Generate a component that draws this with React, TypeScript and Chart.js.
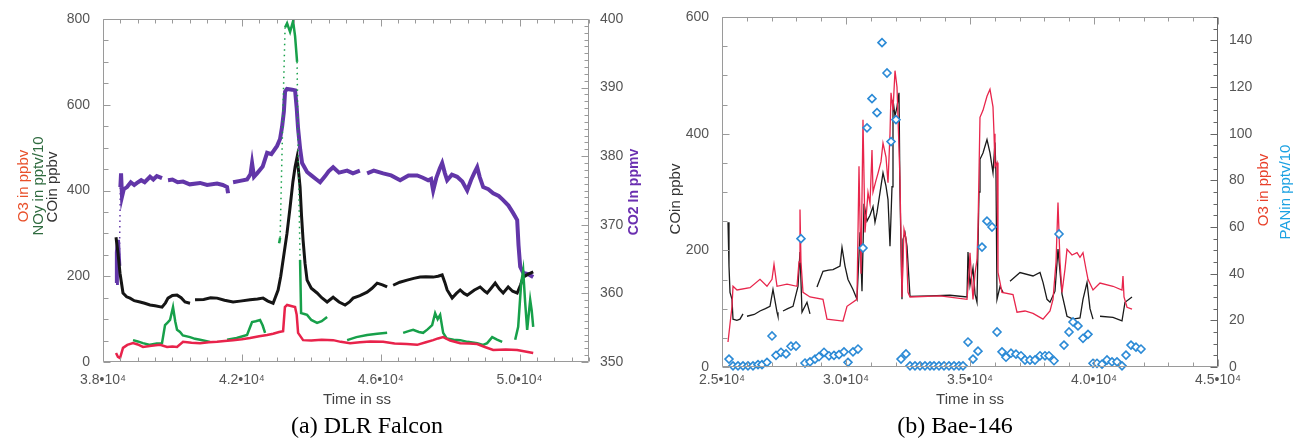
import React, { useEffect, useRef } from "react";
import { Chart, registerables } from "chart.js";
Chart.register(...registerables);

type P = [number, number | null];

// ---------- (a) DLR Falcon ----------
const falconXTicks = [38000, 42000, 46000, 50000];
const falconYTicks = [0, 200, 400, 600, 800];
const falconY2Ticks = [350, 360, 370, 380, 390, 400];

const falconCo2: P[] = [
  [38375, 361.5], [38400, 366], [38432, 367.8], [38470, 364], [38500, 375.5], [38520, 377.5], [38548, 374.1],
  [38600, 375.2], [38692, 375.5], [38800, 376.2], [38900, 375.8], [38980, 376.1], [39100, 376.5], [39200, 376.2],
  [39355, 377], [39450, 376.6], [39550, 377.1], [39700, 376.8], [39780, null], [39873, 376.5], [40000, 376.6],
  [40150, 376.2], [40306, 376.3], [40500, 375.9], [40796, 376.1], [41000, 375.8], [41285, 376.0], [41450, 375.8],
  [41574, 375.5], [41603, 374.6], [41660, null], [41747, 376.2], [41950, 376.4], [42150, 376.6], [42250, 377.4],
  [42294, 379], [42350, 377], [42438, 377.5], [42600, 378.5], [42727, 380.5], [42850, 380.3], [43015, 381.5],
  [43100, 382.5], [43159, 384.3], [43210, 386.5], [43245, 389.4], [43300, 389.8], [43450, 389.7], [43533, 389.6],
  [43580, 387], [43620, 384], [43680, 381], [43735, 379], [43879, 377.7], [44000, 377.2], [44150, 376.6],
  [44254, 376.2], [44400, 377.1], [44500, 377.8], [44629, 378.4], [44800, 377.6], [45032, 377.9], [45200, 377.5],
  [45400, 377.9], [45500, null], [45608, 377.5], [45800, 377.9], [46070, 377.5], [46300, 377.2], [46560, 376.5],
  [46800, 377.2], [47050, 377.2], [47200, 376.9], [47367, 376.5], [47450, 376.7], [47511, 375], [47600, 376.8],
  [47700, 378.2], [47770, 379], [47850, 377.5], [47914, 376.5], [48050, 377.3], [48202, 377], [48350, 376.3],
  [48491, 375], [48600, 376.5], [48700, 377.6], [48779, 378.4], [48850, 377], [48952, 375.5], [49100, 375.2],
  [49240, 374.6], [49400, 374.2], [49528, 373.6], [49680, 372.8], [49816, 371.7], [49931, 370.7], [49970, 367],
  [50018, 363.9], [50104, 363], [50250, 362.8], [50393, 362.4],
];

const falconCo: P[] = [
  [38375, 291], [38432, 254], [38490, 207], [38576, 161], [38680, 152], [38778, 149], [38900, 143], [39066, 140],
  [39200, 137], [39355, 133], [39500, 131], [39700, 128], [39800, 138], [39873, 149], [40000, 155], [40133, 156],
  [40250, 150], [40363, 140], [40507, 137], [40580, null], [40651, 145], [40900, 146], [41100, 150], [41285, 149],
  [41500, 144], [41747, 140], [41950, 142], [42236, 145], [42450, 147], [42611, 149], [42750, 142], [42900, 137],
  [43044, 168], [43120, 200], [43188, 238], [43300, 300], [43389, 361], [43470, 420], [43533, 455], [43591, 478],
  [43640, 440], [43677, 408], [43720, 340], [43764, 284], [43820, 230], [43879, 191], [44000, 172], [44167, 161],
  [44300, 150], [44456, 140], [44629, 151], [44800, 140], [44974, 133], [45100, 140], [45205, 149], [45400, 155],
  [45608, 163], [45750, 172], [45897, 184], [46050, 180], [46185, 175], [46270, null], [46358, 179], [46550, 186],
  [46761, 191], [46950, 195], [47136, 198], [47300, 199], [47511, 198], [47650, 200], [47770, 203], [47850, 185],
  [47914, 168], [48058, 149], [48180, 160], [48289, 168], [48400, 160], [48491, 156], [48700, 168], [48865, 175],
  [49000, 165], [49067, 161], [49180, 172], [49298, 184], [49420, 170], [49528, 161], [49672, 175], [49800, 165],
  [49931, 161], [50030, 180], [50104, 198], [50250, 205], [50393, 210],
];

const falconNoy: P[] = [
  [38865, 51], [39000, 48], [39150, 44], [39355, 40], [39550, 43], [39700, 44], [39787, 86], [39860, 92],
  [39931, 98], [40017, 128], [40080, 95], [40133, 75], [40219, 70], [40300, 62], [40507, 58], [40650, 54],
  [40796, 52], [41084, 47], [41200, null], [41574, 52], [41850, 56], [42150, 63], [42230, 80], [42294, 93],
  [42400, 95], [42525, 98], [42600, 85], [42669, 68], [42800, null], [43073, 277], [43102, 290], [43188, 600],
  [43245, 780], [43303, 790], [43389, 770], [43476, 795], [43533, 760], [43591, 700], [43620, 500], [43677, 238],
  [43706, 114], [43800, 112], [43879, 110], [44000, 98], [44167, 91], [44300, 95], [44456, 105], [44600, null],
  [45032, 51], [45300, 58], [45608, 63], [45900, 66], [46185, 68], [46400, null], [46646, 68], [46800, 72],
  [46934, 75], [47100, 70], [47222, 68], [47350, 76], [47482, 86], [47568, 114], [47640, 100], [47712, 110],
  [47799, 68], [47900, 55], [48100, 52], [48289, 51], [48500, 47], [48779, 44], [48950, 40], [49067, 44],
  [49211, 58], [49350, 52], [49499, 47], [49650, null], [49874, 52], [49960, 82], [50046, 184], [50104, 214],
  [50160, 140], [50219, 75], [50306, 145], [50350, 120], [50393, 82],
];

const falconO3: P[] = [
  [38375, 21], [38430, 12], [38490, 9], [38576, 33], [38700, 40], [38865, 44], [39000, 41], [39153, 35],
  [39400, 38], [39643, 40], [39845, 35], [40000, 36], [40133, 35], [40306, 47], [40550, 45], [40796, 44],
  [41050, 46], [41285, 47], [41500, 49], [41747, 51], [42000, 53], [42236, 56], [42500, 60], [42727, 63],
  [42900, 66], [43073, 70], [43188, 72], [43240, 128], [43303, 133], [43533, 128], [43580, 110], [43620, 68],
  [43764, 51], [44000, 50], [44300, 52], [44629, 51], [44850, 47], [45118, 44], [45400, 46], [45700, 48],
  [46070, 47], [46400, 43], [46750, 42], [47050, 40], [47300, 46], [47511, 51], [47650, 55], [47799, 58],
  [48000, 50], [48289, 44], [48550, 43], [48779, 42], [49000, 35], [49240, 28], [49600, 29], [49931, 28],
  [50200, 24], [50393, 21],
];

// ---------- (b) Bae-146 ----------
const baeXTicks = [25000, 30000, 35000, 40000, 45000];
const baeYTicks = [0, 200, 400, 600];
const baeY2Ticks = [0, 20, 40, 60, 80, 100, 120, 140];

const baeCo: P[] = [
  [25242, 248], [25282, 173], [25323, 128], [25403, 116], [25444, 82], [25600, 80], [25726, 82], [25847, 91],
  [25930, null], [26008, 87], [26300, 90], [26532, 96], [26750, 100], [26935, 104], [27056, 133], [27218, 94],
  [27258, 87], [27360, null], [27460, 96], [27650, 100], [27863, 104], [28064, 138], [28145, 197], [28226, 94],
  [28427, 111], [28548, 91], [28690, null], [28830, 137], [29072, 164], [29300, 166], [29476, 167], [29758, 173],
  [29839, 205], [29960, 173], [30081, 150], [30282, 133], [30443, 116], [30565, 231], [30645, 130], [30726, 280],
  [30847, 250], [30968, 260], [31089, 275], [31169, 248], [31250, 265], [31371, 299], [31492, 333], [31613, 310],
  [31694, 287], [31774, 207], [31855, 309], [31895, 458], [31976, 430], [32056, 446], [32137, 470], [32177, 300],
  [32258, 116], [32298, 219], [32379, 230], [32460, 207], [32540, 150], [32581, 121], [33387, 122], [34194, 123],
  [34879, 120], [34919, 197], [35000, 140], [35121, 170], [35202, 125], [35282, 111], [35363, 300], [35403, 356],
  [35524, 367], [35685, 390], [35806, 367], [35927, 333], [36008, 385], [36048, 330], [36089, 116], [36210, 138],
  [36331, 128], [36470, null], [36613, 147], [37016, 162], [37540, 156], [37823, 162], [37944, 145], [38105, 116],
  [38226, 111], [38427, 130], [38548, 202], [38710, 125], [38911, 87], [39153, 82], [39435, 84], [39556, 116],
  [39718, 145], [39839, 100], [39960, 82], [40100, null], [40242, 87], [40766, 85], [41129, 79], [41250, 111],
  [41532, 120],
];

const baeO3: P[] = [
  [25242, 10.7], [25403, 26], [25444, 34.6], [25605, 33], [26129, 34], [26532, 37.6], [26814, 34.6], [27016, 37.6],
  [27097, 44], [27218, 34.6], [27621, 35.5], [28024, 34.6], [28105, 45], [28145, 67.5], [28185, 45], [28266, 32],
  [28548, 30], [29072, 29], [29234, 20.5], [29879, 19.7], [30040, 26], [30443, 29], [30524, 86], [30605, 40],
  [30685, 106], [30766, 57.7], [30887, 74.8], [30968, 70], [31048, 93], [31089, 75], [31210, 80], [31290, 83],
  [31411, 88], [31492, 96], [31613, 90], [31694, 79], [31774, 100], [31815, 117.5], [31895, 110], [31976, 127],
  [32056, 120], [32097, 107], [32177, 80], [32258, 30], [32298, 45], [32339, 59], [32419, 55], [32500, 32],
  [32581, 30], [33790, 30.5], [34879, 29], [34960, 40], [35000, 49], [35081, 35], [35121, 29], [35202, 40],
  [35282, 46], [35323, 60], [35403, 107], [35524, 110], [35685, 116], [35806, 119], [35927, 111.5], [35968, 100],
  [36008, 86], [36089, 87.6], [36129, 40.6], [36290, 32], [36734, 31], [36895, 23.5], [37218, 24], [37540, 23],
  [37944, 20.5], [38226, 24], [38347, 29], [38468, 45], [38548, 70.5], [38629, 45], [38710, 32], [38831, 42],
  [38911, 50.4], [39113, 48], [39315, 49], [39435, 47], [39556, 49], [39677, 42], [39758, 37.6], [39960, 33],
  [40242, 36], [40766, 34.6], [41129, 33], [41169, 39], [41210, 30], [41331, 25.6], [41532, 24.8],
];

const baePan: P[] = [
  [25282, 3.4], [25444, 0.5], [25645, 0.5], [25847, 0.5], [26048, 0.5], [26250, 0.5], [26452, 1], [26613, 1],
  [26814, 2], [27016, 13.3], [27177, 5], [27379, 6.3], [27581, 5.6], [27782, 8.9], [27984, 9], [28185, 55],
  [28347, 1.7], [28548, 2.2], [28750, 3.4], [28911, 4.4], [29113, 6.3], [29315, 4.8], [29516, 5], [29718, 5.3],
  [29919, 6.5], [30081, 2], [30282, 6.5], [30484, 7.7], [30685, 51], [30847, 102.5], [31048, 115], [31250, 109],
  [31452, 139], [31653, 126], [31815, 96.6], [32016, 106], [32218, 3.4], [32419, 5.6], [32581, 0.5], [32782, 0.5],
  [32984, 0.5], [33185, 0.5], [33387, 0.5], [33548, 0.5], [33750, 0.5], [33952, 0.5], [34153, 0.5], [34355, 0.5],
  [34556, 0.5], [34718, 0.5], [34919, 10.7], [35121, 3.4], [35323, 6.8], [35484, 51.4], [35685, 62.5], [35887, 60],
  [36089, 15], [36290, 6.5], [36452, 4.2], [36653, 5.9], [36855, 5.5], [37056, 4.8], [37218, 3], [37419, 3],
  [37621, 3], [37823, 4.8], [38024, 4.8], [38185, 4.8], [38387, 2.7], [38589, 57], [38790, 9.4], [38992, 15],
  [39153, 19.3], [39355, 17.6], [39556, 12.3], [39758, 14], [39960, 1.6], [40121, 1.6], [40323, 1.2], [40524, 3],
  [40726, 2.2], [40927, 2.2], [41129, 0.5], [41290, 5.1], [41492, 9.4], [41694, 8.5], [41895, 7.7],
];

// ---------- helpers ----------
const SANS = "'Liberation Sans', Arial, Helvetica, sans-serif";
const SERIF = "'Liberation Serif', 'Times New Roman', serif";
const TICK_COLOR = "#555";
const pts = (a: P[]) => a.map(([x, y]) => ({ x, y }));
const xLabel = (v: number) => `${(v / 10000).toFixed(1)}•10⁴`;

type FrameCfg = {
  xMin: number; xMax: number; xStep: number; xMajor: number[];
  yMin: number; yMax: number; yStep: number; yMajor: number[];
  y2Min: number; y2Max: number; y2Step: number; y2Major: number[];
  color: string; y2Color: string;
};

const framePlugin = (c: FrameCfg) => ({
  id: "frame",
  afterDraw(chart: any) {
    const { ctx, chartArea: a, scales } = chart;
    const L = Math.round(a.left) + 0.5, R = Math.round(a.right) - 0.5;
    const T = Math.round(a.top) + 0.5, B = Math.round(a.bottom) - 0.5;
    const isMajor = (arr: number[], v: number) => arr.some((m) => Math.abs(m - v) < 1e-6);
    ctx.save();
    ctx.lineWidth = 1;
    const seg = (x1: number, y1: number, x2: number, y2: number, col: string) => {
      ctx.strokeStyle = col;
      ctx.beginPath(); ctx.moveTo(x1, y1); ctx.lineTo(x2, y2); ctx.stroke();
    };
    seg(L, T, R, T, c.color); seg(L, B, R, B, c.color); seg(L, T, L, B, c.color); seg(R, T, R, B, c.y2Color);
    const nx = Math.round((c.xMax - c.xMin) / c.xStep);
    for (let i = 0; i <= nx; i++) {
      const v = c.xMin + i * c.xStep;
      const px = Math.round(scales.x.getPixelForValue(v)) + 0.5;
      const len = isMajor(c.xMajor, v) ? 7 : 4;
      seg(px, B, px, B - len, c.color); seg(px, T, px, T + len, c.color);
    }
    const ny = Math.round((c.yMax - c.yMin) / c.yStep);
    for (let i = 0; i <= ny; i++) {
      const v = c.yMin + i * c.yStep;
      const py = Math.round(scales.y.getPixelForValue(v)) + 0.5;
      const len = isMajor(c.yMajor, v) ? 7 : 5;
      seg(L, py, L + len, py, c.color);
    }
    const n2 = Math.round((c.y2Max - c.y2Min) / c.y2Step);
    for (let i = 0; i <= n2; i++) {
      const v = c.y2Min + i * c.y2Step;
      const py = Math.round(scales.y2.getPixelForValue(v)) + 0.5;
      const len = isMajor(c.y2Major, v) ? 7 : 4;
      seg(R, py, R - len, py, c.y2Color);
    }
    ctx.restore();
  },
});

const yScale = (pos: string, min: number, max: number, ticks: number[], width: number, padding: number) => ({
  type: "linear", position: pos, min, max,
  grid: { display: false }, border: { display: false },
  afterBuildTicks: (s: any) => { s.ticks = ticks.map((value) => ({ value })); },
  afterFit: (s: any) => { s.width = width; },
  ticks: { color: TICK_COLOR, font: { family: SANS, size: 14 }, padding, autoSkip: false },
});

const xScale = (min: number, max: number, ticks: number[], height: number, padding: number) => ({
  type: "linear", position: "bottom", min, max,
  grid: { display: false }, border: { display: false },
  afterBuildTicks: (s: any) => { s.ticks = ticks.map((value) => ({ value })); },
  afterFit: (s: any) => { s.height = height; },
  ticks: { color: TICK_COLOR, font: { family: SANS, size: 14 }, padding, autoSkip: false, maxRotation: 0,
    callback: (v: any) => xLabel(Number(v)) },
});

// steep jumps in the recorded series are drawn as sparse dots, as in the source plot
const lineDs = (data: P[], color: string, width: number, axis: string, steep = Infinity) => ({
  data: pts(data), yAxisID: axis, borderColor: color, backgroundColor: color,
  borderWidth: width, pointRadius: 0, tension: 0, spanGaps: false, fill: false,
  segment: {
    borderDash: (s: any) => (Math.abs(s.p1.parsed.y - s.p0.parsed.y) > steep ? [1.5, 4] : undefined),
    borderWidth: (s: any) => (Math.abs(s.p1.parsed.y - s.p0.parsed.y) > steep ? 1.5 : undefined),
  },
});

function leftConfig(): any {
  return {
    type: "line",
    data: {
      datasets: [
        lineDs(falconO3, "#E8234B", 2.5, "y"),
        lineDs(falconNoy, "#17A04A", 2.5, "y", 150),
        lineDs(falconCo, "#151515", 3, "y"),
        lineDs(falconCo2, "#6236A8", 4, "y2", 5),
      ],
    },
    options: {
      animation: false, responsive: false, devicePixelRatio: 1,
      layout: { padding: { top: 19, left: 0, right: 0, bottom: 0 } },
      plugins: { legend: { display: false }, tooltip: { enabled: false } },
      scales: {
        x: xScale(38000, 52000, falconXTicks, 38, 2),
        y: yScale("left", 0, 800, falconYTicks, 103, 5),
        y2: yScale("right", 350, 400, falconY2Ticks, 61, 3),
      },
    },
    plugins: [framePlugin({
      xMin: 38000, xMax: 52000, xStep: 500, xMajor: falconXTicks,
      yMin: 0, yMax: 800, yStep: 50, yMajor: falconYTicks,
      y2Min: 350, y2Max: 400, y2Step: 1, y2Major: falconY2Ticks,
      color: "#9a9a9a", y2Color: "#9a9a9a",
    })],
  };
}

function rightConfig(): any {
  return {
    type: "line",
    data: {
      datasets: [
        {
          data: pts(baePan), yAxisID: "y2", showLine: false, pointStyle: "rectRot", pointRadius: 4,
          pointBorderWidth: 1.6, borderColor: "#2B8AD6", pointBorderColor: "#2B8AD6",
          pointBackgroundColor: "#ffffff", backgroundColor: "#ffffff", clip: false,
        },
        lineDs(baeO3, "#E8264C", 1.3, "y2"),
        lineDs(baeCo, "#1a1a1a", 1.3, "y"),
      ],
    },
    options: {
      animation: false, responsive: false, devicePixelRatio: 1,
      layout: { padding: { top: 17, left: 0, right: 0, bottom: 0 } },
      plugins: { legend: { display: false }, tooltip: { enabled: false } },
      scales: {
        x: xScale(25000, 45000, baeXTicks, 33, -3),
        y: yScale("left", 0, 600, baeYTicks, 72, 5),
        y2: yScale("right", 0, 150, baeY2Ticks, 76, 3),
      },
    },
    plugins: [framePlugin({
      xMin: 25000, xMax: 45000, xStep: 1000, xMajor: baeXTicks,
      yMin: 0, yMax: 600, yStep: 50, yMajor: baeYTicks,
      y2Min: 0, y2Max: 150, y2Step: 5, y2Major: baeY2Ticks,
      color: "#9a9a9a", y2Color: "#666",
    })],
  };
}

function Txt(props: { x: number; y: number; text: string; color?: string; size?: number; rot?: boolean; bold?: boolean; serif?: boolean }) {
  const { x, y, text, color = "#444", size = 15, rot = false, bold = false, serif = false } = props;
  return (
    <div style={{
      position: "absolute", left: x, top: y, whiteSpace: "nowrap", lineHeight: 1,
      transform: `translate(-50%, -50%)${rot ? " rotate(-90deg)" : ""}`,
      fontFamily: serif ? SERIF : SANS, fontSize: size, color, fontWeight: bold ? 700 : 400,
    }}>{text}</div>
  );
}

export default function App() {
  const leftRef = useRef<HTMLCanvasElement>(null);
  const rightRef = useRef<HTMLCanvasElement>(null);
  useEffect(() => {
    const a = new Chart(leftRef.current as HTMLCanvasElement, leftConfig());
    const b = new Chart(rightRef.current as HTMLCanvasElement, rightConfig());
    return () => { a.destroy(); b.destroy(); };
  }, []);
  return (
    <div style={{ position: "fixed", left: 0, top: 0, width: 1294, height: 439, background: "#fff", overflow: "hidden" }}>
      <canvas ref={leftRef} width={650} height={400} style={{ position: "absolute", left: 0, top: 0, width: 650, height: 400 }} />
      <canvas ref={rightRef} width={644} height={400} style={{ position: "absolute", left: 650, top: 0, width: 644, height: 400 }} />
      <Txt x={22} y={186} text="O3 in ppbv" color="#E8502A" rot />
      <Txt x={37} y={186} text="NOy in pptv/10" color="#2F6B3F" rot />
      <Txt x={51} y={187} text="COin ppbv" color="#333" rot />
      <Txt x={633} y={192} text="CO2 In ppmv" color="#6A2FB0" size={14} bold rot />
      <Txt x={357} y={398} text="Time in ss" color="#444" />
      <Txt x={367} y={425} text="(a) DLR Falcon" color="#000" size={24} serif />
      <Txt x={674} y={199} text="COin ppbv" color="#333" rot />
      <Txt x={1262} y={190} text="O3 in ppbv" color="#E8402A" rot />
      <Txt x={1284} y={192} text="PANin pptv/10" color="#1BA1E2" rot />
      <Txt x={970} y={398} text="Time in ss" color="#444" />
      <Txt x={955} y={425} text="(b) Bae-146" color="#000" size={24} serif />
    </div>
  );
}
